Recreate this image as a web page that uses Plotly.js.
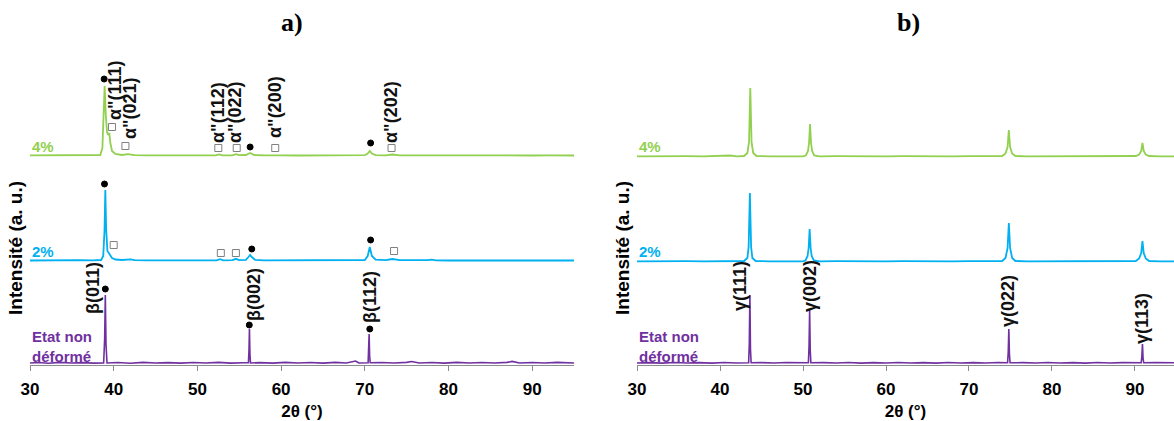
<!DOCTYPE html>
<html><head><meta charset="utf-8">
<script src="https://cdn.plot.ly/plotly-3.0.1.min.js"></script>
<style>html,body{margin:0;padding:0;background:#fff}#chart{width:1174px;height:421px}</style>
</head><body><div id="chart"></div>
<script>
// ---------- DATA (2θ in degrees, intensity in arbitrary units above each pattern's baseline) ----------
// Panel a) beta / alpha'' phases
const a_4pct = [[30,0.6],[32,0.8],[34,0.6],[36,0.9],[37.5,0.8],[38.4,1],[38.65,8],[38.8,40],[38.92,70],[39.05,42],[39.2,24],[39.35,21],[39.48,23],[39.6,13],[39.8,5],[40.2,2],[41,1],[41.7,1.8],[42.5,0.8],[44,0.6],[46,0.7],[48,0.5],[50,0.6],[52.2,0.6],[52.6,1.5],[53,0.6],[54.2,0.7],[54.6,1.8],[55.0,0.8],[55.8,1],[56.3,3],[56.8,1],[58,0.6],[59.3,1],[60,0.6],[62,0.5],[64,0.6],[66,0.5],[68,0.6],[70.0,0.8],[70.35,2.5],[70.6,5],[70.85,2.5],[71.3,0.9],[72.5,0.7],[73.3,1.5],[74.2,0.7],[76,0.6],[78,0.9],[80,0.6],[82,0.5],[84,0.6],[86,0.5],[88,0.6],[90,0.5],[92,0.6],[95,0.5]];
const a_2pct = [[30,0.5],[32,0.8],[34,0.6],[36,0.9],[37.5,0.7],[38.5,1],[38.75,5],[38.9,30],[39.0,71],[39.1,32],[39.25,10],[39.45,7],[39.6,6],[39.8,3],[40.2,1.5],[41,1],[42,1.6],[42.5,0.8],[44,0.6],[46,0.7],[48,0.5],[50,0.6],[52.3,0.6],[52.7,1.8],[53.1,0.6],[54.2,0.8],[54.6,2.2],[55.0,0.8],[55.8,1.2],[56.1,4],[56.3,6],[56.5,4],[56.9,1.2],[58,0.6],[60,0.6],[62,0.6],[64,0.5],[66,0.6],[68,0.7],[70.0,1],[70.35,5],[70.6,14],[70.85,5],[71.3,1.3],[72.5,0.9],[73.3,2],[74.2,0.8],[76,0.6],[77.5,0.8],[78,1.3],[78.5,0.6],[80,0.5],[82,0.6],[84,0.5],[86,0.6],[88,0.5],[90,0.6],[92,0.5],[95,0.5]];
const a_undeformed = [[30,1],[31,1.5],[32.2,0.8],[33.5,1.6],[35,1],[36.3,1.4],[37.6,0.9],[38.8,1],[38.92,25],[39.0,69],[39.08,20],[39.2,1],[40.5,1.5],[42,0.8],[43.5,1.6],[45,1],[46.5,1.4],[48,0.9],[49.5,1.5],[51,1],[52.5,1.6],[54,0.9],[55.5,1.3],[56.1,1.2],[56.17,15],[56.22,35],[56.28,10],[56.35,1],[57.5,1.4],[59,0.9],[60.5,1.6],[62,1],[63.5,1.5],[65,0.9],[66.5,1.6],[67.8,1],[68.9,3],[69.3,1],[70.4,1.2],[70.47,12],[70.52,30],[70.58,8],[70.65,1.2],[72,1.5],[73.5,1],[75,1.6],[75.6,2.5],[76.5,1],[78,1.5],[79.5,0.9],[81,1.6],[82.5,1],[84,1.5],[85.5,1],[87,1.6],[87.6,2.6],[88.5,1],[90,1.5],[91.5,1],[93,1.6],[95,1]];
// Panel b) gamma phase
const b_4pct = [[30,0.6],[32,0.9],[34,0.6],[36,0.8],[38,0.6],[40,0.8],[41.2,1.5],[42,0.7],[42.9,1],[43.3,4],[43.5,15],[43.65,69],[43.8,15],[44.0,4],[44.4,1],[46,0.7],[48,0.8],[50,0.7],[50.35,1.5],[50.6,6],[50.73,14],[50.85,33],[50.97,14],[51.1,6],[51.35,1.5],[52,0.7],[54,0.8],[56,0.6],[58,0.8],[60,0.6],[62,0.8],[64,0.6],[66,0.8],[68,0.6],[70,0.8],[72,0.6],[74.0,1],[74.4,3.5],[74.65,10],[74.8,27],[74.95,10],[75.2,3.5],[75.6,1],[77,0.7],[79,0.8],[81,0.6],[83,0.8],[85,0.6],[87,0.8],[89,0.6],[90.1,1],[90.5,2.5],[90.75,6],[90.9,14],[91.05,6],[91.3,2.5],[91.7,1],[93,0.7],[95,0.6]];
const b_2pct = [[30,0.6],[32,0.9],[34,0.6],[36,0.8],[38,0.6],[40,0.8],[42,0.7],[42.9,1],[43.3,4],[43.45,15],[43.6,69],[43.75,15],[43.9,4],[44.3,1],[46,0.7],[48,0.8],[50,0.7],[50.3,1.5],[50.55,6],[50.68,14],[50.8,33],[50.92,14],[51.05,6],[51.3,1.5],[52,0.7],[54,0.8],[56,0.6],[58,0.8],[60,0.6],[62,0.8],[64,0.6],[66,0.8],[68,0.6],[70,0.8],[72,0.6],[74.0,1],[74.4,4],[74.65,14],[74.8,39],[74.95,14],[75.2,4],[75.6,1],[77,0.7],[79,0.8],[81,0.6],[83,0.8],[85,0.6],[87,0.8],[89,0.6],[90.1,1],[90.5,3.5],[90.75,9],[90.9,21],[91.05,9],[91.3,3.5],[91.7,1],[93,0.7],[95,0.6]];
const b_undeformed = [[30,1],[31.5,1.4],[33,0.9],[34.5,1.5],[36,1],[37.5,1.4],[39,0.9],[40.5,1.5],[42,1],[43.45,1.2],[43.53,20],[43.6,69],[43.67,15],[43.75,1.2],[45,1.4],[46.5,1],[48,1.5],[49.5,1],[50.65,1.2],[50.73,18],[50.8,54],[50.87,14],[50.95,1.2],[52.5,1.4],[54,1],[55.5,1.5],[57,0.9],[58.5,1.4],[60,1],[61.5,1.5],[63,1],[64.5,1.4],[66,0.9],[67.5,1.5],[69,1],[70.5,1.4],[72,1],[73.5,1.5],[74.65,1.2],[74.73,12],[74.8,35],[74.87,10],[74.95,1.2],[76.5,1.4],[78,1],[79.5,1.5],[81,1],[82.5,1.4],[84,0.9],[85.5,1.5],[87,1],[88.5,1.4],[90.75,1.2],[90.83,8],[90.9,20],[90.97,6],[91.05,1.2],[92.5,1.4],[94,1],[95,1.3]];

// Phase markers in panel a): [2θ, height above baseline]
const beta_dots_4pct = [[38.86,77],[56.3,9],[70.7,13]];
const alpha_sq_4pct  = [[39.8,29],[41.4,10],[52.5,8],[54.7,8],[59.3,8],[73.2,8]];
const beta_dots_2pct = [[38.9,77],[56.5,12],[70.7,21]];
const alpha_sq_2pct  = [[40.0,16],[52.8,8],[54.6,8],[73.5,10]];
const beta_dots_und  = [[39.0,75],[56.2,39],[70.6,35]];

const alphaLabels = ['α"(111)','α"(021)','α"(112)','α"(022)','α"(200)','α"(202)'];
const betaLabels  = ['β(011)','β(002)','β(112)'];
const gammaLabels = ['γ(111)','γ(002)','γ(022)','γ(113)'];
const seriesNames = ['4%','2%','Etat non<br>déformé'];
const xTicks = [30,40,50,60,70,80,90];

// ---------- LAYOUT CONSTANTS ----------
const W = 1174, H = 421;
const GREEN = '#92D050', BLUE = '#00B0F0', PURPLE = '#7030A0';
const OFF = {g:209, b:104, p:1};
const FONT = 'Liberation Sans, Arial, sans-serif';

function line(data, off, color, xa, ya, w){
  return {x:data.map(d=>d[0]), y:data.map(d=>d[1]+off), mode:'lines', type:'scatter',
    line:{color:color, width:w, shape:'linear'}, xaxis:xa, yaxis:ya, hoverinfo:'skip', showlegend:false};
}
function marks(data, off, sym){
  const sq = sym==='square-open';
  return {x:data.map(d=>d[0]), y:data.map(d=>d[1]+off), mode:'markers', type:'scatter', xaxis:'x', yaxis:'y',
    marker:{symbol:sym, size:sq?7:6, color:sq?'#808080':'#000', line:{color:sq?'#808080':'#000', width:1}},
    hoverinfo:'skip', showlegend:false, cliponaxis:false};
}

const traces = [
  line(a_4pct, OFF.g, GREEN, 'x','y',1.8),
  line(a_2pct, OFF.b, BLUE, 'x','y',1.8),
  line(a_undeformed, OFF.p, PURPLE, 'x','y',1.6),
  line(b_4pct, OFF.g-1, GREEN, 'x2','y2',1.8),
  line(b_2pct, OFF.b-1, BLUE, 'x2','y2',1.8),
  line(b_undeformed, OFF.p, PURPLE, 'x2','y2',1.6),
  marks(beta_dots_4pct, OFF.g, 'circle'),
  marks(alpha_sq_4pct, OFF.g, 'square-open'),
  marks(beta_dots_2pct, OFF.b, 'circle'),
  marks(alpha_sq_2pct, OFF.b, 'square-open'),
  marks(beta_dots_und, OFF.p, 'circle')
];

const ann = [];
function rot(text, x, y, xr, yr){
  ann.push({text:text, x:x, y:y, xref:xr, yref:yr, textangle:-90, showarrow:false,
    xanchor:'center', yanchor:'middle', font:{family:FONT, size:18, color:'#111', weight:'bold'}});
}
// alpha'' labels (panel a, 4%)
const alphaPos = [[40.16,275],[41.95,257],[52.46,253],[54.50,253],[59.27,258],[73.13,253]];
alphaLabels.forEach((t,i)=>rot(t, alphaPos[i][0], alphaPos[i][1], 'x','y'));
const betaPos = [[37.53,77],[56.77,70],[70.63,68]];
betaLabels.forEach((t,i)=>rot(t, betaPos[i][0], betaPos[i][1], 'x','y'));
const gammaPos = [[42.41,79],[50.84,79],[74.70,64],[90.84,47]];
gammaLabels.forEach((t,i)=>rot(t, gammaPos[i][0], gammaPos[i][1], 'x2','y2'));

// series labels
const serColors = [GREEN, BLUE, PURPLE];
const serY = [219, 114, 19];
[30, 637].forEach(px=>{
  seriesNames.forEach((t,i)=>{
    ann.push({text:t, x:px/W, y:serY[i], xref:'paper', yref:'y', xanchor:'left', yanchor:'middle', align:'left',
      showarrow:false, font:{family:FONT, size:15, color:serColors[i], weight:'bold'}});
  });
});
// y titles
[[15,'Intensité (a. u.)'],[622,'Intensité (a. u.)']].forEach(([px,t])=>{
  ann.push({text:t, x:px/W, y:117, xref:'paper', yref:'y', textangle:-90, xanchor:'center', yanchor:'middle',
    showarrow:false, font:{family:FONT, size:19, color:'#000', weight:'bold'}});
});
// panel titles
[[292,'a)'],[908,'b)']].forEach(([px,t])=>{
  ann.push({text:t, x:px/W, y:343, xref:'paper', yref:'y', xanchor:'center', yanchor:'middle',
    showarrow:false, font:{family:'Liberation Serif, DejaVu Serif, serif', size:26, color:'#000', weight:'bold'}});
});

function xax(domain, range){
  return {domain:domain, range:range, showgrid:false, zeroline:false, showline:true, linecolor:'#8c8c8c', linewidth:1,
    ticks:'outside', ticklen:5, tickcolor:'#8c8c8c', tickvals:xTicks, ticktext:xTicks.map(String),
    ticklabelstandoff:4,
    tickfont:{family:FONT, size:17, color:'#000', weight:'bold'},
    title:{text:'2θ (°)', font:{family:FONT, size:17, color:'#000', weight:'bold'}, standoff:6}, fixedrange:true};
}
function yax(anchor){
  return {anchor:anchor, domain:[0,1], range:[0,365], showgrid:false, zeroline:false, showline:false,
    showticklabels:false, ticks:'', fixedrange:true};
}

const layout = {
  width:W, height:H, margin:{l:0,r:0,t:0,b:56}, paper_bgcolor:'#fff', plot_bgcolor:'#fff',
  showlegend:false,
  xaxis: Object.assign(xax([30/W, 574/W],[30,95]), {anchor:'y'}),
  yaxis: yax('x'),
  xaxis2: Object.assign(xax([637/W, 1],[30,94.7]), {anchor:'y2'}),
  yaxis2: yax('x2'),
  annotations: ann
};
Plotly.newPlot('chart', traces, layout, {staticPlot:true, displayModeBar:false});
</script>
</body></html>
